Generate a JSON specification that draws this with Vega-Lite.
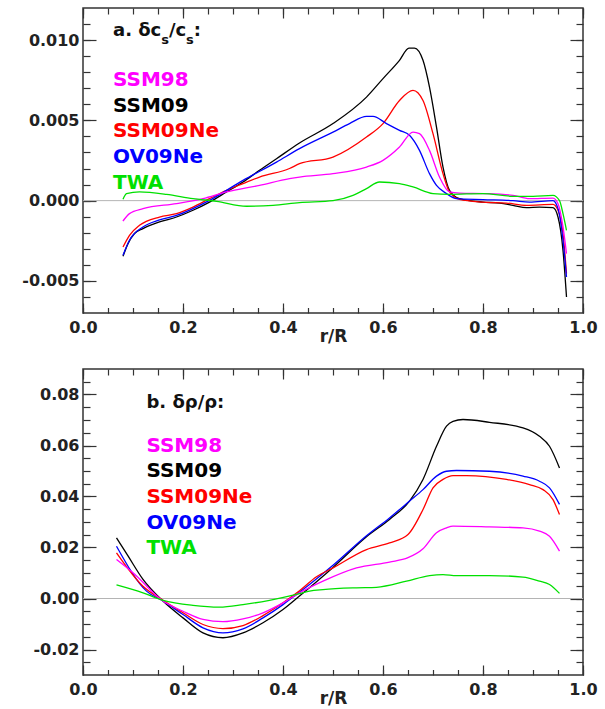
{
  "$schema": "https://vega.github.io/schema/vega-lite/v6.json",
  "padding": {"left": 21, "top": 6, "right": 0, "bottom": 0},
  "bounds": "flush",
  "spacing": 56,
  "config": {
    "view": {"stroke": "#333333", "strokeWidth": 1.5},
    "axis": {"grid": false, "domain": false, "labelFont": "DejaVu Sans", "labelFontWeight": "bold", "labelFontSize": 16, "labelColor": "#222222", "tickColor": "#333333", "tickWidth": 1.2, "titleFont": "DejaVu Sans", "titleFontWeight": "bold", "titleFontSize": 17, "titleColor": "#222222", "labelFlush": false, "labelOverlap": false},
    "text": {"font": "DejaVu Sans", "fontWeight": "bold"}
  },
  "datasets": {
    "topLines": [
      {"series":"SSM09","r":0.08,"v":-0.00347},{"series":"SSM09","r":0.09,"v":-0.00268},{"series":"SSM09","r":0.103,"v":-0.00205},{"series":"SSM09","r":0.12,"v":-0.00174},{"series":"SSM09","r":0.153,"v":-0.00133},{"series":"SSM09","r":0.187,"v":-0.00102},{"series":"SSM09","r":0.22,"v":-0.0006},{"series":"SSM09","r":0.253,"v":-0.00009},{"series":"SSM09","r":0.287,"v":0.00054},{"series":"SSM09","r":0.32,"v":0.00116},{"series":"SSM09","r":0.353,"v":0.00189},{"series":"SSM09","r":0.387,"v":0.00261},{"series":"SSM09","r":0.433,"v":0.00359},{"series":"SSM09","r":0.5,"v":0.0048},{"series":"SSM09","r":0.567,"v":0.00645},{"series":"SSM09","r":0.6,"v":0.0076},{"series":"SSM09","r":0.633,"v":0.00874},{"series":"SSM09","r":0.652,"v":0.0095},{"series":"SSM09","r":0.663,"v":0.0095},{"series":"SSM09","r":0.68,"v":0.00874},{"series":"SSM09","r":0.693,"v":0.00707},{"series":"SSM09","r":0.707,"v":0.00458},{"series":"SSM09","r":0.72,"v":0.00209},{"series":"SSM09","r":0.733,"v":0.00064},{"series":"SSM09","r":0.753,"v":0.00012},{"series":"SSM09","r":0.8,"v":-0.00009},{"series":"SSM09","r":0.833,"v":-0.00015},{"series":"SSM09","r":0.86,"v":-0.00029},{"series":"SSM09","r":0.887,"v":-0.00044},{"series":"SSM09","r":0.913,"v":-0.0004},{"series":"SSM09","r":0.94,"v":-0.00044},{"series":"SSM09","r":0.95,"v":-0.00102},{"series":"SSM09","r":0.96,"v":-0.0031},{"series":"SSM09","r":0.967,"v":-0.006},
      {"series":"SSM09Ne","r":0.08,"v":-0.00289},{"series":"SSM09Ne","r":0.093,"v":-0.00216},{"series":"SSM09Ne","r":0.113,"v":-0.00154},{"series":"SSM09Ne","r":0.153,"v":-0.00102},{"series":"SSM09Ne","r":0.187,"v":-0.00081},{"series":"SSM09Ne","r":0.22,"v":-0.0004},{"series":"SSM09Ne","r":0.253,"v":0.00012},{"series":"SSM09Ne","r":0.287,"v":0.00064},{"series":"SSM09Ne","r":0.32,"v":0.00106},{"series":"SSM09Ne","r":0.353,"v":0.00147},{"series":"SSM09Ne","r":0.413,"v":0.002},{"series":"SSM09Ne","r":0.433,"v":0.0023},{"series":"SSM09Ne","r":0.5,"v":0.00271},{"series":"SSM09Ne","r":0.567,"v":0.00396},{"series":"SSM09Ne","r":0.6,"v":0.0048},{"series":"SSM09Ne","r":0.633,"v":0.00624},{"series":"SSM09Ne","r":0.66,"v":0.00687},{"series":"SSM09Ne","r":0.68,"v":0.00624},{"series":"SSM09Ne","r":0.7,"v":0.00417},{"series":"SSM09Ne","r":0.72,"v":0.00168},{"series":"SSM09Ne","r":0.733,"v":0.00054},{"series":"SSM09Ne","r":0.753,"v":0.00008},{"series":"SSM09Ne","r":0.8,"v":-0.00009},{"series":"SSM09Ne","r":0.847,"v":-0.00015},{"series":"SSM09Ne","r":0.887,"v":-0.00029},{"series":"SSM09Ne","r":0.94,"v":-0.00023},{"series":"SSM09Ne","r":0.95,"v":-0.0006},{"series":"SSM09Ne","r":0.96,"v":-0.00205},{"series":"SSM09Ne","r":0.967,"v":-0.00455},
      {"series":"OV09Ne","r":0.08,"v":-0.0034},{"series":"OV09Ne","r":0.093,"v":-0.00247},{"series":"OV09Ne","r":0.12,"v":-0.00164},{"series":"OV09Ne","r":0.153,"v":-0.0012},{"series":"OV09Ne","r":0.187,"v":-0.00092},{"series":"OV09Ne","r":0.253,"v":0.00002},{"series":"OV09Ne","r":0.32,"v":0.00126},{"series":"OV09Ne","r":0.387,"v":0.0024},{"series":"OV09Ne","r":0.433,"v":0.00324},{"series":"OV09Ne","r":0.5,"v":0.00427},{"series":"OV09Ne","r":0.533,"v":0.0048},{"series":"OV09Ne","r":0.567,"v":0.00525},{"series":"OV09Ne","r":0.58,"v":0.00525},{"series":"OV09Ne","r":0.607,"v":0.0048},{"series":"OV09Ne","r":0.633,"v":0.00438},{"series":"OV09Ne","r":0.653,"v":0.00407},{"series":"OV09Ne","r":0.673,"v":0.00313},{"series":"OV09Ne","r":0.693,"v":0.00168},{"series":"OV09Ne","r":0.707,"v":0.00095},{"series":"OV09Ne","r":0.727,"v":0.00044},{"series":"OV09Ne","r":0.747,"v":0.00012},{"series":"OV09Ne","r":0.8,"v":0.00006},{"series":"OV09Ne","r":0.86,"v":0.0},{"series":"OV09Ne","r":0.893,"v":-0.00009},{"series":"OV09Ne","r":0.94,"v":0.0},{"series":"OV09Ne","r":0.95,"v":-0.0005},{"series":"OV09Ne","r":0.96,"v":-0.00247},{"series":"OV09Ne","r":0.967,"v":-0.00476},
      {"series":"SSM98","r":0.08,"v":-0.00127},{"series":"SSM98","r":0.093,"v":-0.00081},{"series":"SSM98","r":0.12,"v":-0.0005},{"series":"SSM98","r":0.187,"v":-0.00019},{"series":"SSM98","r":0.24,"v":0.00012},{"series":"SSM98","r":0.287,"v":0.00054},{"series":"SSM98","r":0.353,"v":0.00095},{"series":"SSM98","r":0.413,"v":0.00137},{"series":"SSM98","r":0.433,"v":0.00147},{"series":"SSM98","r":0.5,"v":0.00168},{"series":"SSM98","r":0.567,"v":0.00209},{"series":"SSM98","r":0.6,"v":0.00251},{"series":"SSM98","r":0.633,"v":0.00334},{"series":"SSM98","r":0.66,"v":0.00427},{"series":"SSM98","r":0.673,"v":0.00417},{"series":"SSM98","r":0.693,"v":0.00313},{"series":"SSM98","r":0.713,"v":0.00147},{"series":"SSM98","r":0.733,"v":0.00054},{"series":"SSM98","r":0.753,"v":0.00047},{"series":"SSM98","r":0.807,"v":0.00044},{"series":"SSM98","r":0.86,"v":0.00033},{"series":"SSM98","r":0.893,"v":0.00012},{"series":"SSM98","r":0.94,"v":0.00016},{"series":"SSM98","r":0.95,"v":-0.00019},{"series":"SSM98","r":0.96,"v":-0.00164},{"series":"SSM98","r":0.967,"v":-0.0033},
      {"series":"TWA","r":0.08,"v":0.00008},{"series":"TWA","r":0.087,"v":0.00044},{"series":"TWA","r":0.113,"v":0.00054},{"series":"TWA","r":0.167,"v":0.00039},{"series":"TWA","r":0.22,"v":0.00012},{"series":"TWA","r":0.267,"v":-0.00004},{"series":"TWA","r":0.327,"v":-0.00035},{"series":"TWA","r":0.38,"v":-0.00029},{"series":"TWA","r":0.433,"v":-0.00012},{"series":"TWA","r":0.5,"v":0.0},{"series":"TWA","r":0.54,"v":0.00033},{"series":"TWA","r":0.567,"v":0.00075},{"series":"TWA","r":0.593,"v":0.00116},{"series":"TWA","r":0.633,"v":0.00106},{"series":"TWA","r":0.66,"v":0.00085},{"series":"TWA","r":0.7,"v":0.00044},{"series":"TWA","r":0.733,"v":0.00039},{"series":"TWA","r":0.8,"v":0.00044},{"series":"TWA","r":0.86,"v":0.00027},{"series":"TWA","r":0.9,"v":0.00027},{"series":"TWA","r":0.94,"v":0.00033},{"series":"TWA","r":0.953,"v":0.0},{"series":"TWA","r":0.96,"v":-0.00081},{"series":"TWA","r":0.967,"v":-0.00185}
    ],
    "botLines": [
      {"series":"SSM09","r":0.067,"v":0.0238},{"series":"SSM09","r":0.09,"v":0.0167},{"series":"SSM09","r":0.12,"v":0.0075},{"series":"SSM09","r":0.16,"v":-0.001},{"series":"SSM09","r":0.2,"v":-0.0076},{"series":"SSM09","r":0.24,"v":-0.0135},{"series":"SSM09","r":0.28,"v":-0.0154},{"series":"SSM09","r":0.32,"v":-0.0135},{"series":"SSM09","r":0.36,"v":-0.0095},{"series":"SSM09","r":0.4,"v":-0.0043},{"series":"SSM09","r":0.433,"v":0.001},{"series":"SSM09","r":0.5,"v":0.0122},{"series":"SSM09","r":0.567,"v":0.0242},{"series":"SSM09","r":0.613,"v":0.031},{"series":"SSM09","r":0.653,"v":0.0382},{"series":"SSM09","r":0.68,"v":0.0467},{"series":"SSM09","r":0.707,"v":0.0597},{"series":"SSM09","r":0.727,"v":0.0676},{"series":"SSM09","r":0.74,"v":0.0695},{"series":"SSM09","r":0.76,"v":0.0702},{"series":"SSM09","r":0.813,"v":0.0691},{"series":"SSM09","r":0.88,"v":0.0669},{"series":"SSM09","r":0.913,"v":0.0636},{"series":"SSM09","r":0.933,"v":0.0597},{"series":"SSM09","r":0.953,"v":0.0512},
      {"series":"OV09Ne","r":0.067,"v":0.0205},{"series":"OV09Ne","r":0.127,"v":0.0029},{"series":"OV09Ne","r":0.16,"v":-0.001},{"series":"OV09Ne","r":0.2,"v":-0.0063},{"series":"OV09Ne","r":0.24,"v":-0.0115},{"series":"OV09Ne","r":0.28,"v":-0.0135},{"series":"OV09Ne","r":0.32,"v":-0.0119},{"series":"OV09Ne","r":0.36,"v":-0.0076},{"series":"OV09Ne","r":0.4,"v":-0.0024},{"series":"OV09Ne","r":0.427,"v":0.0016},{"series":"OV09Ne","r":0.453,"v":0.0055},{"series":"OV09Ne","r":0.5,"v":0.013},{"series":"OV09Ne","r":0.567,"v":0.0246},{"series":"OV09Ne","r":0.613,"v":0.0316},{"series":"OV09Ne","r":0.653,"v":0.0382},{"series":"OV09Ne","r":0.68,"v":0.0427},{"series":"OV09Ne","r":0.707,"v":0.048},{"series":"OV09Ne","r":0.727,"v":0.0499},{"series":"OV09Ne","r":0.747,"v":0.0502},{"series":"OV09Ne","r":0.813,"v":0.0499},{"series":"OV09Ne","r":0.88,"v":0.048},{"series":"OV09Ne","r":0.913,"v":0.046},{"series":"OV09Ne","r":0.933,"v":0.0434},{"series":"OV09Ne","r":0.953,"v":0.0369},
      {"series":"SSM09Ne","r":0.067,"v":0.0179},{"series":"SSM09Ne","r":0.12,"v":0.0048},{"series":"SSM09Ne","r":0.16,"v":-0.0007},{"series":"SSM09Ne","r":0.2,"v":-0.0056},{"series":"SSM09Ne","r":0.24,"v":-0.0102},{"series":"SSM09Ne","r":0.28,"v":-0.0118},{"series":"SSM09Ne","r":0.32,"v":-0.0106},{"series":"SSM09Ne","r":0.36,"v":-0.0067},{"series":"SSM09Ne","r":0.4,"v":-0.0017},{"series":"SSM09Ne","r":0.433,"v":0.003},{"series":"SSM09Ne","r":0.467,"v":0.0085},{"series":"SSM09Ne","r":0.5,"v":0.012},{"series":"SSM09Ne","r":0.567,"v":0.0192},{"series":"SSM09Ne","r":0.613,"v":0.0218},{"series":"SSM09Ne","r":0.65,"v":0.0251},{"series":"SSM09Ne","r":0.68,"v":0.0349},{"series":"SSM09Ne","r":0.7,"v":0.0434},{"series":"SSM09Ne","r":0.72,"v":0.0467},{"series":"SSM09Ne","r":0.74,"v":0.0482},{"series":"SSM09Ne","r":0.767,"v":0.0482},{"series":"SSM09Ne","r":0.847,"v":0.0467},{"series":"SSM09Ne","r":0.893,"v":0.0447},{"series":"SSM09Ne","r":0.92,"v":0.0427},{"series":"SSM09Ne","r":0.94,"v":0.0388},{"series":"SSM09Ne","r":0.953,"v":0.0329},
      {"series":"SSM98","r":0.067,"v":0.0153},{"series":"SSM98","r":0.1,"v":0.0101},{"series":"SSM98","r":0.16,"v":-0.001},{"series":"SSM98","r":0.2,"v":-0.005},{"series":"SSM98","r":0.24,"v":-0.0082},{"series":"SSM98","r":0.28,"v":-0.0091},{"series":"SSM98","r":0.32,"v":-0.008},{"series":"SSM98","r":0.36,"v":-0.0056},{"series":"SSM98","r":0.4,"v":-0.0017},{"series":"SSM98","r":0.433,"v":0.0022},{"series":"SSM98","r":0.48,"v":0.0068},{"series":"SSM98","r":0.547,"v":0.012},{"series":"SSM98","r":0.613,"v":0.0143},{"series":"SSM98","r":0.65,"v":0.016},{"series":"SSM98","r":0.68,"v":0.0195},{"series":"SSM98","r":0.707,"v":0.0258},{"series":"SSM98","r":0.727,"v":0.0277},{"series":"SSM98","r":0.74,"v":0.0284},{"series":"SSM98","r":0.813,"v":0.0281},{"series":"SSM98","r":0.88,"v":0.0277},{"series":"SSM98","r":0.913,"v":0.0264},{"series":"SSM98","r":0.933,"v":0.0244},{"series":"SSM98","r":0.953,"v":0.0186},
      {"series":"TWA","r":0.067,"v":0.0053},{"series":"TWA","r":0.12,"v":0.0022},{"series":"TWA","r":0.16,"v":-0.0007},{"series":"TWA","r":0.22,"v":-0.0027},{"series":"TWA","r":0.273,"v":-0.0034},{"series":"TWA","r":0.32,"v":-0.0024},{"series":"TWA","r":0.373,"v":-0.0007},{"series":"TWA","r":0.427,"v":0.0016},{"series":"TWA","r":0.453,"v":0.0029},{"series":"TWA","r":0.48,"v":0.0035},{"series":"TWA","r":0.547,"v":0.0042},{"series":"TWA","r":0.587,"v":0.0044},{"series":"TWA","r":0.647,"v":0.0068},{"series":"TWA","r":0.693,"v":0.009},{"series":"TWA","r":0.72,"v":0.0094},{"series":"TWA","r":0.747,"v":0.009},{"series":"TWA","r":0.813,"v":0.009},{"series":"TWA","r":0.88,"v":0.0084},{"series":"TWA","r":0.913,"v":0.0068},{"series":"TWA","r":0.933,"v":0.0055},{"series":"TWA","r":0.953,"v":0.002}
    ],
    "topLegend": [
      {"series":"SSM98","r":0.06,"v":0.007117},{"series":"SSM09","r":0.06,"v":0.005529},{"series":"SSM09Ne","r":0.06,"v":0.003941},{"series":"OV09Ne","r":0.06,"v":0.002341},{"series":"TWA","r":0.06,"v":0.000747}
    ],
    "botLegend": [
      {"series":"SSM98","r":0.1268,"v":0.05737},{"series":"SSM09","r":0.1268,"v":0.04773},{"series":"SSM09Ne","r":0.1268,"v":0.03753},{"series":"OV09Ne","r":0.1268,"v":0.02733},{"series":"TWA","r":0.1268,"v":0.01753}
    ],
    "topTitle": [
      {"t":"a. δc","r":0.06,"v":0.01023},{"t":"/c","r":0.1718,"v":0.01023},{"t":":","r":0.2216,"v":0.01023}
    ],
    "topSub": [
      {"t":"s","r":0.1564,"v":0.009776},{"t":"s","r":0.2062,"v":0.009776}
    ],
    "botTitle": [
      {"t":"b. δρ/ρ:","r":0.1268,"v":0.07478}
    ]
  },
  "vconcat": [
    {
      "width": 500, "height": 305,
      "resolve": {"axis": {"x": "independent", "y": "independent"}},
      "layer": [
        {"data": {"values": [{}]}, "mark": {"type": "rule", "color": "#b4b4b4", "strokeWidth": 1},
         "encoding": {"y": {"datum": 0, "type": "quantitative", "axis": null}}},
        {"data": {"name": "topLines"}, "mark": {"type": "line", "strokeWidth": 1.3, "interpolate": "monotone"},
         "encoding": {
           "x": {"field": "r", "type": "quantitative", "scale": {"domain": [0, 1], "nice": false, "zero": false},
                 "axis": {"orient": "bottom", "values": [0, 0.2, 0.4, 0.6, 0.8, 1.0], "format": ".1f", "offset": -10, "tickSize": 10, "labelPadding": 6, "title": "r/R", "titlePadding": -7}},
           "y": {"field": "v", "type": "quantitative", "scale": {"domain": [-0.007, 0.012], "nice": false, "zero": false},
                 "axis": {"orient": "left", "values": [-0.005, 0, 0.005, 0.01], "format": ".3f", "labelExpr": "replace(datum.label, '\u2212', '-')", "offset": -13, "tickSize": 13, "labelPadding": 4, "title": null}},
           "color": {"field": "series", "type": "nominal", "legend": null,
                     "scale": {"domain": ["SSM98", "SSM09", "SSM09Ne", "OV09Ne", "TWA"], "range": ["#ff00ff", "#000000", "#ff0000", "#0000ff", "#00e000"]}}
         }},
        {"data": {"name": "topLines"}, "mark": {"type": "point", "opacity": 0},
         "encoding": {
           "x": {"field": "r", "type": "quantitative", "axis": {"orient": "bottom", "values": [0,0.05,0.1,0.15,0.2,0.25,0.3,0.35,0.4,0.45,0.5,0.55,0.6,0.65,0.7,0.75,0.8,0.85,0.9,0.95,1], "offset": -5.5, "tickSize": 5.5, "labels": false, "title": null}},
           "y": {"field": "v", "type": "quantitative", "axis": {"orient": "left", "values": [-0.006,-0.005,-0.004,-0.003,-0.002,-0.001,0,0.001,0.002,0.003,0.004,0.005,0.006,0.007,0.008,0.009,0.01,0.011], "offset": -7, "tickSize": 7, "labels": false, "title": null}}
         }},
        {"data": {"name": "topLines"}, "mark": {"type": "point", "opacity": 0},
         "encoding": {
           "x": {"field": "r", "type": "quantitative", "axis": {"orient": "top", "values": [0, 0.2, 0.4, 0.6, 0.8, 1.0], "offset": -10, "tickSize": 10, "labels": false, "title": null}},
           "y": {"field": "v", "type": "quantitative", "axis": {"orient": "right", "values": [-0.005, 0, 0.005, 0.01], "offset": -13, "tickSize": 13, "labels": false, "title": null}}
         }},
        {"data": {"name": "topLines"}, "mark": {"type": "point", "opacity": 0},
         "encoding": {
           "x": {"field": "r", "type": "quantitative", "axis": {"orient": "top", "values": [0,0.05,0.1,0.15,0.2,0.25,0.3,0.35,0.4,0.45,0.5,0.55,0.6,0.65,0.7,0.75,0.8,0.85,0.9,0.95,1], "offset": -6, "tickSize": 6, "labels": false, "title": null}},
           "y": {"field": "v", "type": "quantitative", "axis": {"orient": "right", "values": [-0.006,-0.005,-0.004,-0.003,-0.002,-0.001,0,0.001,0.002,0.003,0.004,0.005,0.006,0.007,0.008,0.009,0.01,0.011], "offset": -7, "tickSize": 7, "labels": false, "title": null}}
         }},
        {"data": {"name": "topLegend"}, "mark": {"type": "text", "align": "left", "baseline": "alphabetic", "fontSize": 20, "fontWeight": "bold"},
         "encoding": {
           "x": {"field": "r", "type": "quantitative", "axis": null},
           "y": {"field": "v", "type": "quantitative", "axis": null},
           "text": {"field": "series"},
           "color": {"field": "series", "type": "nominal", "legend": null}
         }},
        {"data": {"name": "topTitle"}, "mark": {"type": "text", "align": "left", "baseline": "alphabetic", "fontSize": 18, "fontWeight": "bold", "color": "#111111"},
         "encoding": {
           "x": {"field": "r", "type": "quantitative", "axis": null},
           "y": {"field": "v", "type": "quantitative", "axis": null},
           "text": {"field": "t"}
         }},
        {"data": {"name": "topSub"}, "mark": {"type": "text", "align": "left", "baseline": "alphabetic", "fontSize": 13, "fontWeight": "bold", "color": "#111111"},
         "encoding": {
           "x": {"field": "r", "type": "quantitative", "axis": null},
           "y": {"field": "v", "type": "quantitative", "axis": null},
           "text": {"field": "t"}
         }}
      ]
    },
    {
      "width": 500, "height": 306,
      "resolve": {"axis": {"x": "independent", "y": "independent"}},
      "layer": [
        {"data": {"values": [{}]}, "mark": {"type": "rule", "color": "#b4b4b4", "strokeWidth": 1},
         "encoding": {"y": {"datum": 0, "type": "quantitative", "axis": null}}},
        {"data": {"name": "botLines"}, "mark": {"type": "line", "strokeWidth": 1.3, "interpolate": "monotone"},
         "encoding": {
           "x": {"field": "r", "type": "quantitative", "scale": {"domain": [0, 1], "nice": false, "zero": false},
                 "axis": {"orient": "bottom", "values": [0, 0.2, 0.4, 0.6, 0.8, 1.0], "format": ".1f", "offset": -10, "tickSize": 10, "labelPadding": 6, "title": "r/R", "titlePadding": -7}},
           "y": {"field": "v", "type": "quantitative", "scale": {"domain": [-0.03, 0.09], "nice": false, "zero": false},
                 "axis": {"orient": "left", "values": [-0.02, 0, 0.02, 0.04, 0.06, 0.08], "format": ".2f", "labelExpr": "replace(datum.label, '\u2212', '-')", "offset": -13, "tickSize": 13, "labelPadding": 4, "title": null}},
           "color": {"field": "series", "type": "nominal", "legend": null,
                     "scale": {"domain": ["SSM98", "SSM09", "SSM09Ne", "OV09Ne", "TWA"], "range": ["#ff00ff", "#000000", "#ff0000", "#0000ff", "#00e000"]}}
         }},
        {"data": {"name": "botLines"}, "mark": {"type": "point", "opacity": 0},
         "encoding": {
           "x": {"field": "r", "type": "quantitative", "axis": {"orient": "bottom", "values": [0,0.05,0.1,0.15,0.2,0.25,0.3,0.35,0.4,0.45,0.5,0.55,0.6,0.65,0.7,0.75,0.8,0.85,0.9,0.95,1], "offset": -5.5, "tickSize": 5.5, "labels": false, "title": null}},
           "y": {"field": "v", "type": "quantitative", "axis": {"orient": "left", "values": [-0.025,-0.02,-0.015,-0.01,-0.005,0,0.005,0.01,0.015,0.02,0.025,0.03,0.035,0.04,0.045,0.05,0.055,0.06,0.065,0.07,0.075,0.08,0.085], "offset": -7, "tickSize": 7, "labels": false, "title": null}}
         }},
        {"data": {"name": "botLines"}, "mark": {"type": "point", "opacity": 0},
         "encoding": {
           "x": {"field": "r", "type": "quantitative", "axis": {"orient": "top", "values": [0, 0.2, 0.4, 0.6, 0.8, 1.0], "offset": -10, "tickSize": 10, "labels": false, "title": null}},
           "y": {"field": "v", "type": "quantitative", "axis": {"orient": "right", "values": [-0.02, 0, 0.02, 0.04, 0.06, 0.08], "offset": -13, "tickSize": 13, "labels": false, "title": null}}
         }},
        {"data": {"name": "botLines"}, "mark": {"type": "point", "opacity": 0},
         "encoding": {
           "x": {"field": "r", "type": "quantitative", "axis": {"orient": "top", "values": [0,0.05,0.1,0.15,0.2,0.25,0.3,0.35,0.4,0.45,0.5,0.55,0.6,0.65,0.7,0.75,0.8,0.85,0.9,0.95,1], "offset": -6, "tickSize": 6, "labels": false, "title": null}},
           "y": {"field": "v", "type": "quantitative", "axis": {"orient": "right", "values": [-0.025,-0.02,-0.015,-0.01,-0.005,0,0.005,0.01,0.015,0.02,0.025,0.03,0.035,0.04,0.045,0.05,0.055,0.06,0.065,0.07,0.075,0.08,0.085], "offset": -7, "tickSize": 7, "labels": false, "title": null}}
         }},
        {"data": {"name": "botLegend"}, "mark": {"type": "text", "align": "left", "baseline": "alphabetic", "fontSize": 20, "fontWeight": "bold"},
         "encoding": {
           "x": {"field": "r", "type": "quantitative", "axis": null},
           "y": {"field": "v", "type": "quantitative", "axis": null},
           "text": {"field": "series"},
           "color": {"field": "series", "type": "nominal", "legend": null}
         }},
        {"data": {"name": "botTitle"}, "mark": {"type": "text", "align": "left", "baseline": "alphabetic", "fontSize": 18, "fontWeight": "bold", "color": "#111111"},
         "encoding": {
           "x": {"field": "r", "type": "quantitative", "axis": null},
           "y": {"field": "v", "type": "quantitative", "axis": null},
           "text": {"field": "t"}
         }}
      ]
    }
  ]
}
